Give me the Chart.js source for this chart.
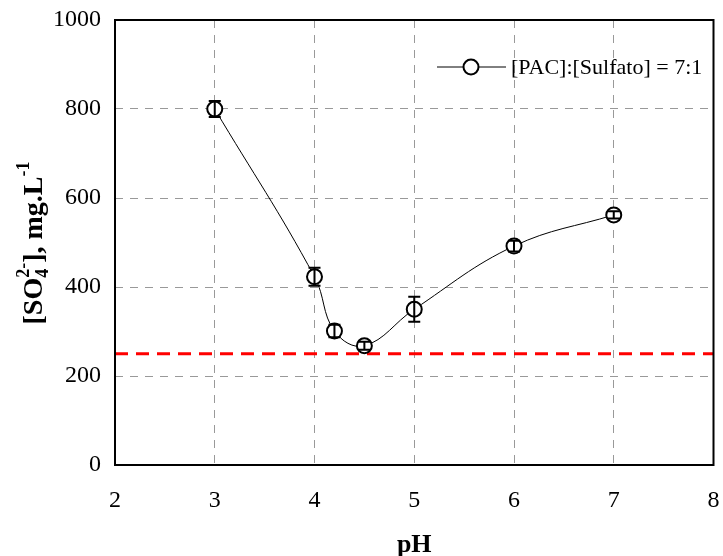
<!DOCTYPE html>
<html>
<head>
<meta charset="utf-8">
<script src="https://cdn.jsdelivr.net/npm/chart.js@4.4.0/dist/chart.umd.min.js"></script>
<style>
html, body { margin: 0; padding: 0; background: #fff; }
#wrap { width: 723px; height: 556px; }
</style>
</head>
<body>
<div id="wrap"><canvas id="grafico"></canvas></div>
<script>
// datos
const phValues = [3, 4, 4.2, 4.5, 5, 6, 7];
const sulfato = [800, 423, 301, 268, 350, 492, 562];
const sulfatoErr = [18, 20, 14, 9, 28, 12, 8];
const limiteX = [2, 8];
const limiteY = [250, 250];
const xTicks = [2, 3, 4, 5, 6, 7, 8];
const yTicks = [0, 200, 400, 600, 800, 1000];
const legendLabel = '[PAC]:[Sulfato] = 7:1';
const xTitle = 'pH';

const serif = "'Liberation Serif', 'Times New Roman', serif";

// barras de error verticales con tapas
const errorBars = {
  id: 'errorBars',
  afterDatasetsDraw(chart) {
    const ctx = chart.ctx;
    const xs = chart.scales.x, ys = chart.scales.y;
    ctx.save();
    ctx.strokeStyle = '#000';
    ctx.lineWidth = 2;
    phValues.forEach((p, i) => {
      const x = xs.getPixelForValue(p);
      const y1 = ys.getPixelForValue(sulfato[i] + sulfatoErr[i]);
      const y2 = ys.getPixelForValue(sulfato[i] - sulfatoErr[i]);
      ctx.beginPath();
      ctx.moveTo(x, y1); ctx.lineTo(x, y2);
      ctx.moveTo(x - 6, y1); ctx.lineTo(x + 6, y1);
      ctx.moveTo(x - 6, y2); ctx.lineTo(x + 6, y2);
      ctx.stroke();
    });
    ctx.restore();
  }
};

// marco, leyenda y titulos de ejes
const extras = {
  id: 'extras',
  afterDraw(chart) {
    const ctx = chart.ctx;
    const a = chart.chartArea;
    ctx.save();
    ctx.strokeStyle = '#000';
    ctx.lineWidth = 2;
    ctx.strokeRect(a.left, a.top, a.right - a.left, a.bottom - a.top);

    // leyenda
    const ly = 67;
    ctx.lineWidth = 1;
    ctx.beginPath();
    ctx.moveTo(437, ly); ctx.lineTo(506, ly);
    ctx.stroke();
    ctx.fillStyle = '#fff';
    ctx.lineWidth = 2;
    ctx.beginPath();
    ctx.arc(471, ly, 7.5, 0, Math.PI * 2);
    ctx.fill(); ctx.stroke();
    ctx.fillStyle = '#000';
    ctx.font = '22px ' + serif;
    ctx.textAlign = 'left';
    ctx.textBaseline = 'middle';
    ctx.fillText(legendLabel, 511, ly + 1);

    // titulo eje x
    ctx.font = 'bold 26px ' + serif;
    ctx.textAlign = 'center';
    ctx.fillText(xTitle, (a.left + a.right) / 2, 545);

    // titulo eje y con sub/superindices
    const big = 'bold 28px ' + serif, small = 'bold 18px ' + serif;
    ctx.textBaseline = 'alphabetic';
    ctx.translate(42, 243);
    ctx.rotate(-Math.PI / 2);
    ctx.textAlign = 'left';
    ctx.font = big;
    const w1 = ctx.measureText('[SO').width;
    const w3 = ctx.measureText('], mg.L').width;
    ctx.font = small;
    const w2 = Math.max(ctx.measureText('4').width, ctx.measureText('2-').width);
    const w4 = ctx.measureText('-1').width;
    let x = -(w1 + w2 + w3 + w4) / 2;
    ctx.font = big;
    ctx.fillText('[SO', x, 0);
    x += w1;
    ctx.font = small;
    ctx.fillText('4', x, 6);
    ctx.fillText('2-', x, -13);
    x += w2;
    ctx.font = big;
    ctx.fillText('], mg.L', x, 0);
    x += w3;
    ctx.font = small;
    ctx.fillText('-1', x, -13);
    ctx.restore();
  }
};

const ctx = document.getElementById('grafico').getContext('2d');
const myChart = new Chart(ctx, {
  type: 'scatter',
  data: {
    datasets: [
      {
        label: legendLabel,
        data: phValues.map((p, i) => ({ x: p, y: sulfato[i] })),
        showLine: true,
        borderColor: '#000',
        borderWidth: 1,
        tension: 0.4,
        pointRadius: 7.5,
        pointHoverRadius: 7.5,
        pointBorderWidth: 2,
        pointBorderColor: '#000',
        pointBackgroundColor: '#fff',
      },
      {
        label: 'limite',
        data: limiteX.map((p, i) => ({ x: p, y: limiteY[i] })),
        showLine: true,
        borderColor: '#ff0000',
        borderWidth: 3,
        borderDash: [13, 8],
        pointRadius: 0,
      },
    ],
  },
  options: {
    responsive: true,
    maintainAspectRatio: false,
    animation: false,
    layout: { padding: { top: 20, right: 3, left: 0, bottom: 0 } },
    plugins: {
      legend: { display: false },
      tooltip: { enabled: false },
    },
    scales: {
      x: {
        type: 'linear',
        min: 2,
        max: 8,
        afterBuildTicks: s => { s.ticks = xTicks.map(v => ({ value: v })); },
        afterFit: s => { s.height = 91; s.paddingLeft = 0; s.paddingRight = 0; },
        grid: { color: '#999', lineWidth: 1, drawTicks: false },
        border: { display: false, dash: [8, 7] },
        ticks: { color: '#000', font: { family: serif, size: 24 }, padding: 21, callback: v => String(v) },
      },
      y: {
        min: 0,
        max: 1000,
        afterBuildTicks: s => { s.ticks = yTicks.map(v => ({ value: v })); },
        afterFit: s => { s.width = 115; s.paddingTop = 0; s.paddingBottom = 0; },
        grid: { color: '#999', lineWidth: 1, drawTicks: false },
        border: { display: false, dash: [8, 7] },
        ticks: { color: '#000', font: { family: serif, size: 24 }, padding: 14, callback: v => String(v) },
      },
    },
  },
  plugins: [errorBars, extras],
});
</script>
</body>
</html>
